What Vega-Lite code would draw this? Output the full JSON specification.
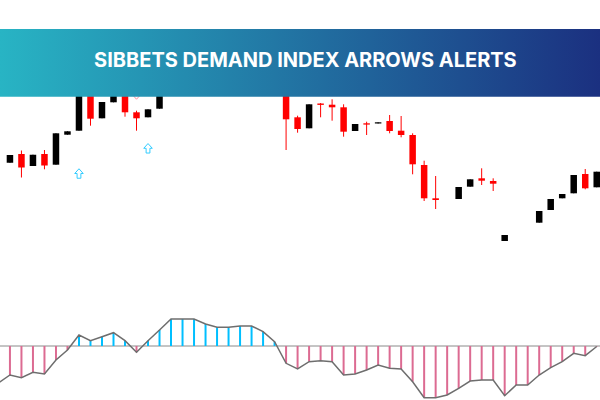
{
  "$schema": "https://vega.github.io/schema/vega-lite/v6.json",
  "width": 600,
  "height": 400,
  "padding": 0,
  "autosize": {"type": "none"},
  "config": {"view": {"stroke": null}},
  "datasets": {
    "candles": [
      {"i": 0, "o": 1.19373, "h": 1.1945, "l": 1.19373, "c": 1.1945},
      {"i": 1, "o": 1.1946, "h": 1.19495, "l": 1.19225, "c": 1.19325},
      {"i": 2, "o": 1.1934, "h": 1.19453, "l": 1.1934, "c": 1.19453},
      {"i": 3, "o": 1.1946, "h": 1.195, "l": 1.19307, "c": 1.19345},
      {"i": 4, "o": 1.19353, "h": 1.19667, "l": 1.19353, "c": 1.19667},
      {"i": 5, "o": 1.19653, "h": 1.19687, "l": 1.19653, "c": 1.19687},
      {"i": 6, "o": 1.19693, "h": 1.2012, "l": 1.19693, "c": 1.201},
      {"i": 7, "o": 1.2008, "h": 1.2012, "l": 1.19743, "c": 1.19813},
      {"i": 8, "o": 1.19817, "h": 1.1998, "l": 1.19817, "c": 1.1998},
      {"i": 9, "o": 1.19977, "h": 1.2006, "l": 1.19977, "c": 1.2006},
      {"i": 10, "o": 1.2005, "h": 1.201, "l": 1.19833, "c": 1.19877},
      {"i": 11, "o": 1.19877, "h": 1.19893, "l": 1.19693, "c": 1.19817},
      {"i": 12, "o": 1.19827, "h": 1.19907, "l": 1.19827, "c": 1.19907},
      {"i": 13, "o": 1.19913, "h": 1.2008, "l": 1.19913, "c": 1.2008},
      {"i": 24, "o": 1.2008, "h": 1.2012, "l": 1.195, "c": 1.19807},
      {"i": 25, "o": 1.19827, "h": 1.19843, "l": 1.19673, "c": 1.1971},
      {"i": 26, "o": 1.19717, "h": 1.19957, "l": 1.19717, "c": 1.19957},
      {"i": 27, "o": 1.19965, "h": 1.1997, "l": 1.19827, "c": 1.19951},
      {"i": 28, "o": 1.19953, "h": 1.20007, "l": 1.19793, "c": 1.19927},
      {"i": 29, "o": 1.19927, "h": 1.19957, "l": 1.19633, "c": 1.19683},
      {"i": 30, "o": 1.1969, "h": 1.1976, "l": 1.1969, "c": 1.1976},
      {"i": 31, "o": 1.19767, "h": 1.19783, "l": 1.1965, "c": 1.19754},
      {"i": 32, "o": 1.19765, "h": 1.19777, "l": 1.19765, "c": 1.19777},
      {"i": 33, "o": 1.1979, "h": 1.1985, "l": 1.19667, "c": 1.1969},
      {"i": 34, "o": 1.19693, "h": 1.1984, "l": 1.19627, "c": 1.1965},
      {"i": 35, "o": 1.1965, "h": 1.19667, "l": 1.19257, "c": 1.19357},
      {"i": 36, "o": 1.1935, "h": 1.19393, "l": 1.1899, "c": 1.19017},
      {"i": 37, "o": 1.19017, "h": 1.1924, "l": 1.1891, "c": 1.19},
      {"i": 39, "o": 1.1901, "h": 1.1913, "l": 1.1901, "c": 1.1913},
      {"i": 40, "o": 1.19133, "h": 1.19207, "l": 1.19133, "c": 1.19207},
      {"i": 41, "o": 1.19217, "h": 1.19317, "l": 1.1915, "c": 1.19193},
      {"i": 42, "o": 1.1919, "h": 1.19217, "l": 1.1909, "c": 1.19163},
      {"i": 43, "o": 1.1859, "h": 1.1865, "l": 1.1859, "c": 1.1865},
      {"i": 46, "o": 1.18773, "h": 1.1889, "l": 1.18773, "c": 1.1889},
      {"i": 47, "o": 1.189, "h": 1.1901, "l": 1.189, "c": 1.1901},
      {"i": 48, "o": 1.19017, "h": 1.1906, "l": 1.19017, "c": 1.1906},
      {"i": 49, "o": 1.19067, "h": 1.1925, "l": 1.19067, "c": 1.1925},
      {"i": 50, "o": 1.1926, "h": 1.1931, "l": 1.19107, "c": 1.19117},
      {"i": 51, "o": 1.19127, "h": 1.19283, "l": 1.19127, "c": 1.19283}
    ],
    "arrows": [
      {"i": 6, "p": 1.19265, "dir": "up"},
      {"i": 12, "p": 1.19517, "dir": "up"},
      {"i": 11, "p": 1.20055, "dir": "down"}
    ],
    "ind": [
      {"i": -1, "v": -0.37},
      {"i": 0, "v": -0.29}, {"i": 1, "v": -0.317}, {"i": 2, "v": -0.263}, {"i": 3, "v": -0.28},
      {"i": 4, "v": -0.14}, {"i": 5, "v": -0.04}, {"i": 6, "v": 0.11}, {"i": 7, "v": 0.053},
      {"i": 8, "v": 0.093}, {"i": 9, "v": 0.133}, {"i": 10, "v": 0.053}, {"i": 11, "v": -0.063},
      {"i": 12, "v": 0.053}, {"i": 13, "v": 0.16}, {"i": 14, "v": 0.27}, {"i": 15, "v": 0.27},
      {"i": 16, "v": 0.27}, {"i": 17, "v": 0.22}, {"i": 18, "v": 0.187}, {"i": 19, "v": 0.187},
      {"i": 20, "v": 0.2}, {"i": 21, "v": 0.2}, {"i": 22, "v": 0.143}, {"i": 23, "v": 0.043},
      {"i": 24, "v": -0.173}, {"i": 25, "v": -0.23}, {"i": 26, "v": -0.157}, {"i": 27, "v": -0.147},
      {"i": 28, "v": -0.157}, {"i": 29, "v": -0.29}, {"i": 30, "v": -0.28}, {"i": 31, "v": -0.24},
      {"i": 32, "v": -0.19}, {"i": 33, "v": -0.223}, {"i": 34, "v": -0.23}, {"i": 35, "v": -0.357},
      {"i": 36, "v": -0.517}, {"i": 37, "v": -0.517}, {"i": 38, "v": -0.49}, {"i": 39, "v": -0.423},
      {"i": 40, "v": -0.35}, {"i": 41, "v": -0.34}, {"i": 42, "v": -0.34}, {"i": 43, "v": -0.497},
      {"i": 44, "v": -0.39}, {"i": 45, "v": -0.39}, {"i": 46, "v": -0.29}, {"i": 47, "v": -0.217},
      {"i": 48, "v": -0.157}, {"i": 49, "v": -0.073}, {"i": 50, "v": -0.097}, {"i": 51, "v": -0.005}
    ],
    "banner": [
      {"title": "SIBBETS DEMAND INDEX ARROWS ALERTS"}
    ]
  },
  "resolve": {"scale": {"y": "independent"}},
  "layer": [
    {
      "data": {"name": "ind"},
      "layer": [
        {
          "mark": {"type": "rule", "color": "#c4c4c4", "strokeWidth": 1},
          "encoding": {
            "y": {"datum": 0, "type": "quantitative", "scale": {"domain": [-0.54, 3.46], "nice": false, "zero": false}, "axis": null}
          }
        },
        {
          "mark": {"type": "rule", "strokeWidth": 2, "clip": true},
          "encoding": {
            "x": {"field": "i", "type": "quantitative", "scale": {"domain": [-0.43, 50.85], "nice": false, "zero": false}, "axis": null},
            "y": {"field": "v", "type": "quantitative", "scale": {"domain": [-0.54, 3.46], "nice": false, "zero": false}, "axis": null},
            "y2": {"datum": 0},
            "color": {"condition": {"test": "datum.v > 0", "value": "#00bfff"}, "value": "#dc6b92"}
          }
        },
        {
          "mark": {"type": "line", "color": "#6e6e6e", "strokeWidth": 1.5, "clip": true},
          "encoding": {
            "x": {"field": "i", "type": "quantitative", "axis": null},
            "y": {"field": "v", "type": "quantitative", "axis": null}
          }
        }
      ]
    },
    {
      "layer": [
        {
          "data": {"name": "candles"},
          "mark": {"type": "rule", "strokeWidth": 1, "clip": true},
          "encoding": {
            "x": {"field": "i", "type": "quantitative", "scale": {"domain": [-0.43, 50.85], "nice": false, "zero": false}, "axis": null},
            "y": {"field": "l", "type": "quantitative", "scale": {"domain": [1.17, 1.21], "nice": false, "zero": false}, "axis": null},
            "y2": {"field": "h"},
            "color": {"condition": {"test": "datum.c >= datum.o", "value": "#000000"}, "value": "#ff0000"}
          }
        },
        {
          "data": {"name": "candles"},
          "mark": {"type": "bar", "size": 6.5, "clip": true},
          "encoding": {
            "x": {"field": "i", "type": "quantitative", "axis": null},
            "y": {"field": "o", "type": "quantitative", "axis": null},
            "y2": {"field": "c"},
            "color": {"condition": {"test": "datum.c >= datum.o", "value": "#000000"}, "value": "#ff0000"}
          }
        },
        {
          "data": {"name": "arrows"},
          "mark": {"type": "point", "filled": false, "fill": "#ffffff", "fillOpacity": 1, "strokeWidth": 1, "size": 90, "opacity": 1},
          "encoding": {
            "x": {"field": "i", "type": "quantitative", "axis": null},
            "y": {"field": "p", "type": "quantitative", "axis": null},
            "shape": {"field": "dir", "type": "nominal", "legend": null, "scale": {"domain": ["up", "down"], "range": ["M0,-1L0.9,0L0.4,0L0.4,1L-0.4,1L-0.4,0L-0.9,0Z", "M0,1L0.9,0L0.4,0L0.4,-1L-0.4,-1L-0.4,0L-0.9,0Z"]}},
            "stroke": {"field": "dir", "type": "nominal", "legend": null, "scale": {"domain": ["up", "down"], "range": ["#33ccff", "#ff8fa0"]}}
          }
        },
        {
          "data": {"name": "banner"},
          "mark": {"type": "rect", "color": {"gradient": "linear", "x1": 0, "y1": 0, "x2": 1, "y2": 0, "stops": [{"offset": 0, "color": "#28b4c4"}, {"offset": 1, "color": "#1b3080"}]}},
          "encoding": {
            "y": {"datum": 1.2071, "type": "quantitative", "axis": null},
            "y2": {"datum": 1.20033}
          }
        },
        {
          "data": {"name": "banner"},
          "mark": {"type": "text", "color": "#ffffff", "font": "Inter", "fontWeight": "bold", "fontSize": 20, "align": "center", "baseline": "middle"},
          "encoding": {
            "x": {"datum": 25.68, "type": "quantitative", "axis": null},
            "y": {"datum": 1.20395, "type": "quantitative", "axis": null},
            "text": {"field": "title"}
          }
        }
      ]
    }
  ]
}
